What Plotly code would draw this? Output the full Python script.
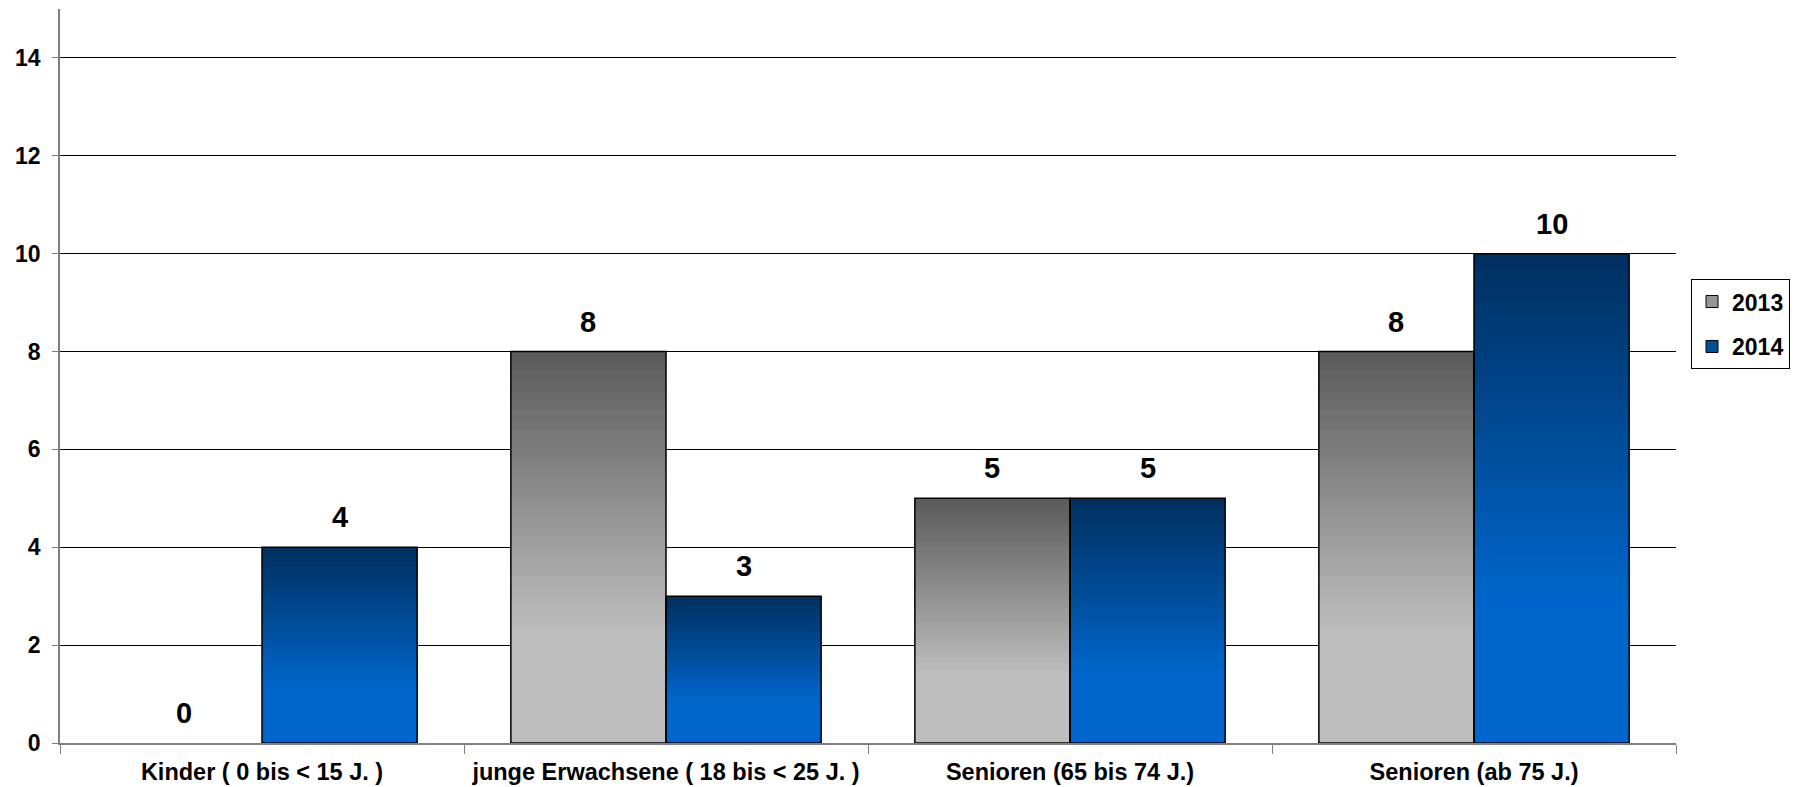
import plotly.graph_objects as go

categories = ["Kinder ( 0 bis < 15 J. )", "junge Erwachsene ( 18 bis < 25 J. )",
              "Senioren (65 bis 74 J.)", "Senioren (ab 75 J.)"]
series_names = ["2013", "2014"]
vals_2013 = [0, 8, 5, 8]
vals_2014 = [4, 3, 5, 10]
y_ticks = [0, 2, 4, 6, 8, 10, 12, 14]

FONT = "Liberation Sans, Arial, sans-serif"
N = 40
BAR_W = 0.384

def lerp(c1, c2, t):
    return "rgb(%d,%d,%d)" % tuple(round(a + (b - a) * t) for a, b in zip(c1, c2))

def gradient_trace(vals, top, bottom, offset, name):
    xs, bases, ys, colors = [], [], [], []
    for c, v in zip(categories, vals):
        if v <= 0:
            continue
        for i in range(N):
            base = v * i / N
            h = min(v / N * 1.6, v - base)
            t = 1 - (i + 0.5) / N
            tt = min(t / 0.72, 1.0)
            xs.append(c); bases.append(base); ys.append(h)
            colors.append(lerp(top, bottom, tt))
    return go.Bar(x=xs, y=ys, base=bases, offset=offset, width=BAR_W,
                  marker=dict(color=colors, line=dict(width=0)),
                  showlegend=False, hoverinfo="skip", name=name)

def outline_trace(vals, offset, name):
    return go.Bar(x=categories, y=vals, offset=offset, width=BAR_W,
                  marker=dict(color="rgba(0,0,0,0)",
                              line=dict(color="#000000",
                                        width=[1.5 if v > 0 else 0 for v in vals])),
                  showlegend=False, name=name)

gray_top, gray_bot = (90, 90, 90), (190, 190, 190)
blue_top, blue_bot = (0, 47, 95), (0, 102, 204)

fig = go.Figure()
fig.add_trace(gradient_trace(vals_2013, gray_top, gray_bot, -BAR_W, series_names[0]))
fig.add_trace(gradient_trace(vals_2014, blue_top, blue_bot, 0, series_names[1]))
fig.add_trace(outline_trace(vals_2013, -BAR_W, series_names[0]))
fig.add_trace(outline_trace(vals_2014, 0, series_names[1]))

# legend entries
fig.add_trace(go.Bar(x=[None], y=[None], name=series_names[0], legendgroup="a",
                     marker=dict(color="rgb(150,150,150)", line=dict(color="#000", width=1))))
fig.add_trace(go.Bar(x=[None], y=[None], name=series_names[1], legendgroup="b",
                     marker=dict(color="rgb(0,80,160)", line=dict(color="#000", width=1))))

annotations = []
for vals, sh in ((vals_2013, -BAR_W / 2), (vals_2014, BAR_W / 2)):
    for i, v in enumerate(vals):
        annotations.append(dict(x=i + sh, y=v, xref="x", yref="y", text=str(v),
                                showarrow=False, yanchor="bottom", yshift=12,
                                font=dict(family=FONT, size=29, color="#000000",
                                          weight="bold")))

fig.update_layout(
    width=1791, height=779,
    margin=dict(l=52, r=123, t=1, b=43.5),
    paper_bgcolor="white", plot_bgcolor="white",
    barmode="overlay",
    font=dict(family=FONT, color="#000000"),
    annotations=annotations,
    legend=dict(x=1.0093, y=0.632, xanchor="left", yanchor="top",
                bordercolor="#000000", borderwidth=1, tracegroupgap=12,
                font=dict(family=FONT, size=23, color="#000000", weight="bold"),
                itemwidth=30),
    xaxis=dict(type="category", categoryorder="array", categoryarray=categories,
               tickson="boundaries", ticks="outside", ticklen=9, tickcolor="#808080",
               showline=True, linecolor="#808080", linewidth=1.5,
               tickfont=dict(family=FONT, size=23.5, color="#000000", weight="bold"),
               ticklabelstandoff=7,
               range=[-0.5, 3.5], showgrid=False),
    yaxis=dict(range=[0, 15], tickvals=y_ticks, ticks="outside", ticklen=6,
               tickcolor="#808080", showline=True, linecolor="#808080", linewidth=1.5,
               showgrid=True, gridcolor="#000000", gridwidth=1,
               zeroline=False, ticklabelstandoff=7,
               tickfont=dict(family=FONT, size=23, color="#000000", weight="bold")),
)

fig.write_html("out.html")
